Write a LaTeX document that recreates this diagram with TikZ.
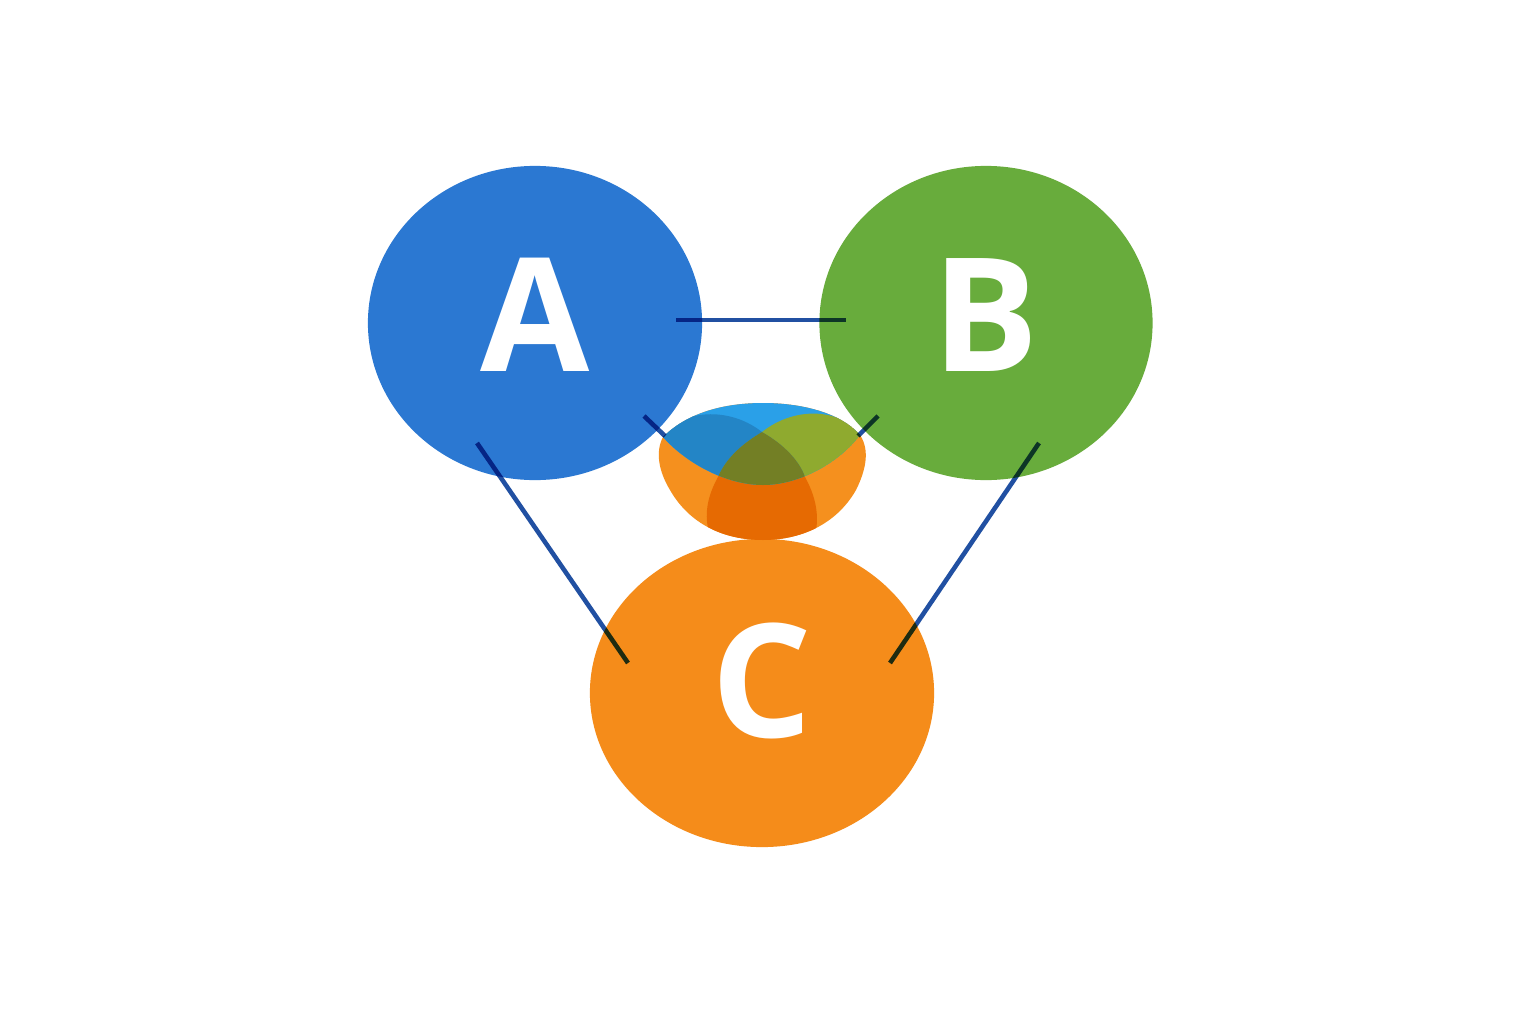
\documentclass[tikz,border=0pt]{standalone}
\usepackage{fontspec}
\setmainfont{Open Sans}
\usetikzlibrary{shapes.geometric}
\definecolor{cA}{HTML}{2B78D2}
\definecolor{cB}{HTML}{68AC3C}
\definecolor{cC}{HTML}{F58C1A}
\definecolor{cline}{HTML}{2150A2}
\definecolor{lblue}{HTML}{2AA0E8}
\definecolor{dblue}{HTML}{2385C6}
\definecolor{lgreen}{HTML}{8FAA2F}
\definecolor{olive}{HTML}{737F25}
\definecolor{lorange}{HTML}{F5901E}
\definecolor{dorange}{HTML}{E66A02}
\tikzset{
  setcircle/.style={ellipse, inner sep=0pt, text=white, font=\fontsize{45}{45}\selectfont\bfseries},
  link/.style={draw=cline, line width=1.3pt}
}
\begin{document}
\begin{tikzpicture}[x=0.01cm, y=-0.01cm]
\useasboundingbox[fill=white] (0,0) rectangle (1536,1024);
% sets
\node[setcircle, fill=cA, minimum width=3.34cm, minimum height=3.14cm, text depth=4.5pt] (A) at (535,323) {A};
\node[setcircle, fill=cB, minimum width=3.33cm, minimum height=3.14cm, text depth=4.5pt] (B) at (986,323) {B};
\node[setcircle, fill=cC, minimum width=3.44cm, minimum height=3.08cm, text depth=7pt] (C) at (762,693) {C};
% central bowl
\def\bowl{(663,437) .. controls (690,410) and (730,403) .. (763,403) .. controls (800,403) and (840,412) .. (860,435)
  .. controls (870,450) and (866,470) .. (856,490) .. controls (836,525) and (800,540) .. (763,540)
  .. controls (725,540) and (690,525) .. (670,490) .. controls (659,472) and (655,452) .. (663,437) -- cycle}
\def\upper{(663,437) .. controls (690,410) and (730,403) .. (763,403) .. controls (800,403) and (840,412) .. (860,435)
  .. controls (840,462) and (800,485) .. (763,485) .. controls (725,485) and (685,462) .. (663,437) -- cycle}
\fill[lorange] \bowl;
\begin{scope}
  \clip \bowl;
  \fill[dorange] (762,432) .. controls (740,445) and (725,460) .. (718,477) .. controls (708,495) and (703,515) .. (710,535)
    -- (700,560) -- (830,560) -- (815,535) .. controls (820,515) and (815,495) .. (805,477)
    .. controls (800,462) and (785,445) .. (762,432) -- cycle;
\end{scope}
\begin{scope}
  \clip \upper;
  \fill[lblue] \upper;
  \fill[dblue] (663,437) .. controls (675,413) and (725,403) .. (762,432)
    .. controls (740,445) and (725,460) .. (718,477) -- (700,520) -- (640,520) -- (640,437) -- cycle;
  \fill[lgreen] (762,432) .. controls (795,406) and (840,408) .. (860,435) -- (880,437) -- (880,520) -- (805,520)
    -- (805,477) .. controls (800,462) and (785,445) .. (762,432) -- cycle;
  \fill[olive] (762,432) .. controls (785,445) and (800,462) .. (805,477) -- (805,520) -- (718,520)
    -- (718,477) .. controls (725,460) and (740,445) .. (762,432) -- cycle;
\end{scope}
% connectors
\coordinate (ab1) at (676,320);
\coordinate (ab2) at (846,320);
\coordinate (ac1) at (477,443);
\coordinate (ac2) at (628,663);
\coordinate (bc1) at (1039,443);
\coordinate (bc2) at (890,663);
\coordinate (am1) at (644,416);
\coordinate (am2) at (665,436);
\coordinate (bm1) at (878,416);
\coordinate (bm2) at (858,436);
\begin{scope}[blend mode=multiply]
  \draw[link] (ab1) -- (ab2);
  \draw[link] (ac1) -- (ac2);
  \draw[link] (bc1) -- (bc2);
  \draw[link] (am1) -- (am2);
  \draw[link] (bm1) -- (bm2);
\end{scope}
\end{tikzpicture}
\end{document}
